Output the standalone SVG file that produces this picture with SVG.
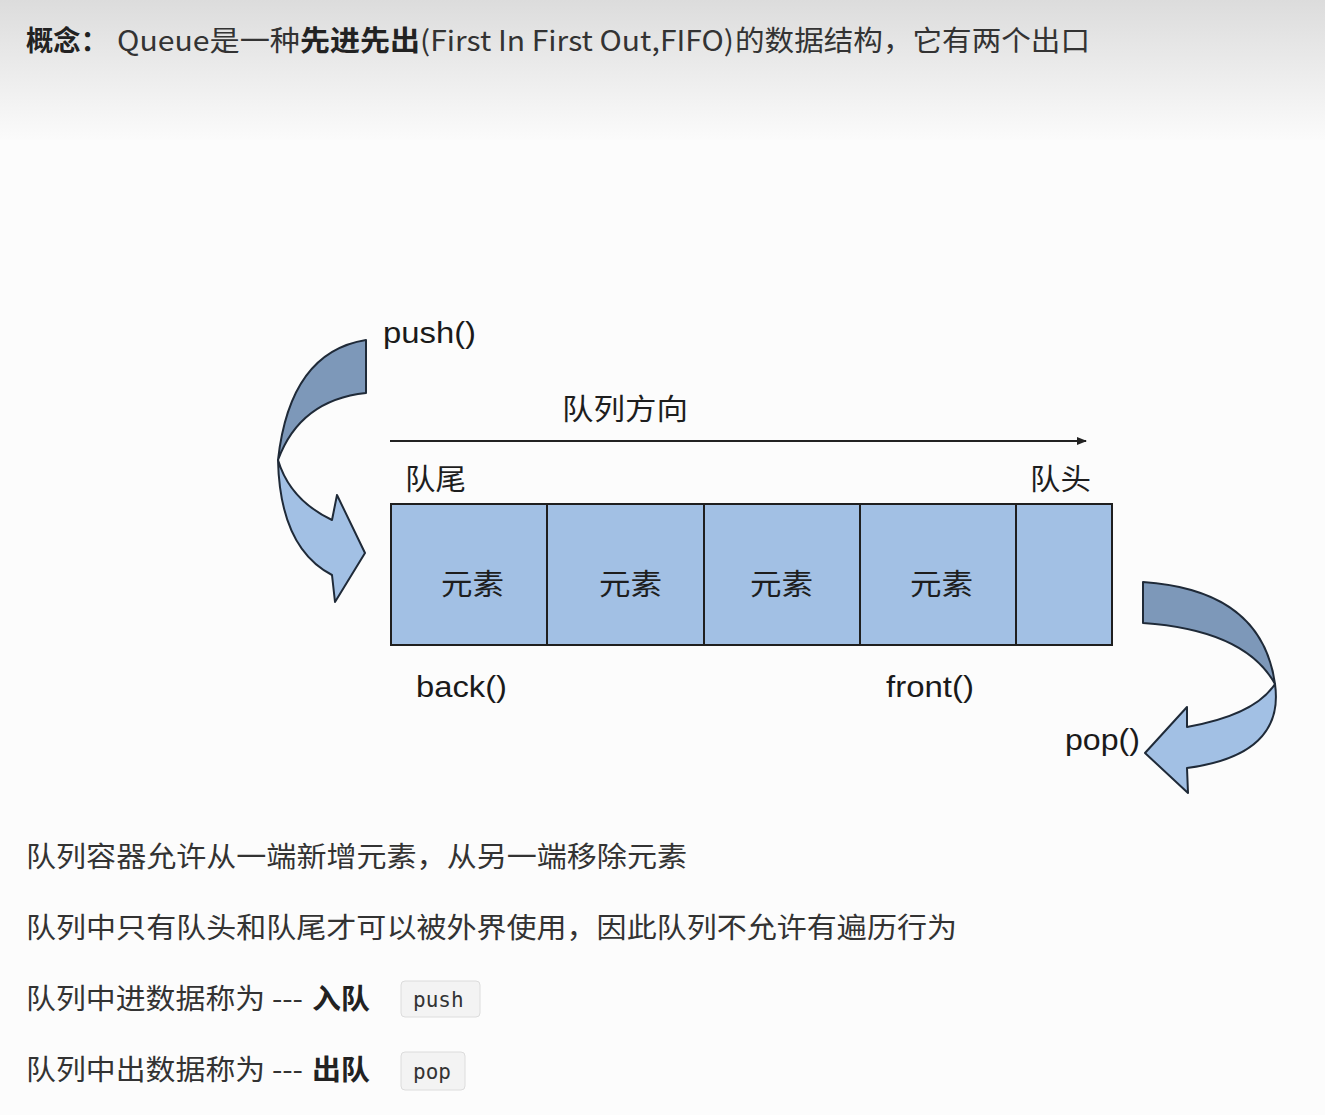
<svg xmlns="http://www.w3.org/2000/svg" width="1325" height="1115" viewBox="0 0 1325 1115">
<defs>
<linearGradient id="topbg" x1="0" y1="0" x2="0" y2="1">
<stop offset="0" stop-color="#dcdcdc"/>
<stop offset="1" stop-color="#fbfbfb"/>
</linearGradient>
<marker id="arr" markerWidth="10" markerHeight="8" refX="9" refY="4" orient="auto" markerUnits="userSpaceOnUse">
<path d="M0,0 L10,4 L0,8 Z" fill="#222"/>
</marker>
<style>
.cjk{font-family:"Noto Sans CJK SC","Liberation Sans",sans-serif;fill:#333;}
.b{font-weight:bold;fill:#222;}
.lbl{font-family:"Liberation Sans","Noto Sans CJK SC",sans-serif;font-size:30px;fill:#1a1a1a;}
.lcjk{font-family:"Noto Sans CJK SC",sans-serif;font-size:29px;fill:#1e1e1e;}
.cell{fill:#a2c0e4;stroke:#1f1f1f;stroke-width:2;}
.dark{fill:#7d98b9;stroke:#1f2a38;stroke-width:2;stroke-linejoin:round;}
.light{fill:#a2c0e4;stroke:#1f2a38;stroke-width:2;stroke-linejoin:round;}
.code{fill:#f3f3f3;stroke:#dcdcdc;stroke-width:1;}
.mono{font-family:"DejaVu Sans Mono","Liberation Mono",monospace;font-size:21px;fill:#333;}
</style>
</defs>
<rect x="0" y="0" width="1325" height="1115" fill="#fcfcfc"/>
<rect x="0" y="0" width="1325" height="140" fill="url(#topbg)"/>

<g id="title" class="cjk" font-size="28">
<text x="26" y="51" class="cjk b" textLength="82" lengthAdjust="spacingAndGlyphs">概念：</text>
<text x="117" y="51" class="cjk" textLength="183" lengthAdjust="spacingAndGlyphs">Queue是一种</text>
<text x="300" y="51" class="cjk b" textLength="120" lengthAdjust="spacingAndGlyphs">先进先出</text>
<text x="420" y="51" class="cjk" textLength="314" lengthAdjust="spacingAndGlyphs">(First In First Out,FIFO)</text>
<text x="735" y="51" class="cjk" textLength="355" lengthAdjust="spacingAndGlyphs">的数据结构，它有两个出口</text>
</g>

<g id="connectors">
<line x1="390" y1="441" x2="1086" y2="441" stroke="#222" stroke-width="2" marker-end="url(#arr)"/>
</g>
<text id="direction-label" x="562" y="420" class="lcjk" textLength="126" lengthAdjust="spacingAndGlyphs">队列方向</text>
<text id="tail-label" x="405" y="490" class="lcjk" textLength="61" lengthAdjust="spacingAndGlyphs">队尾</text>
<text id="head-label" x="1030" y="490" class="lcjk" textLength="61" lengthAdjust="spacingAndGlyphs">队头</text>

<g id="queue">
<g id="cell1"><rect class="cell" x="391" y="504" width="156" height="141"/><text x="441" y="595" class="lcjk" textLength="63" lengthAdjust="spacingAndGlyphs">元素</text></g>
<g id="cell2"><rect class="cell" x="547" y="504" width="157" height="141"/><text x="599" y="595" class="lcjk" textLength="63" lengthAdjust="spacingAndGlyphs">元素</text></g>
<g id="cell3"><rect class="cell" x="704" y="504" width="156" height="141"/><text x="750" y="595" class="lcjk" textLength="63" lengthAdjust="spacingAndGlyphs">元素</text></g>
<g id="cell4"><rect class="cell" x="860" y="504" width="156" height="141"/><text x="910" y="595" class="lcjk" textLength="63" lengthAdjust="spacingAndGlyphs">元素</text></g>
<g id="cell5"><rect class="cell" x="1016" y="504" width="96" height="141"/></g>
</g>

<g id="push-arrow">
<path class="dark" d="M366,340 Q290,352 278,460 Q300,400 366,393 Z"/>
<path class="light" d="M278,460 Q280,548 332,575 L335,602 L365,553 L337,495 L332,520 Q290,500 278,460 Z"/>
</g>
<text id="push-label" x="383" y="343" class="lbl" textLength="93" lengthAdjust="spacingAndGlyphs">push()</text>

<g id="pop-arrow">
<path class="dark" d="M1143,582 Q1262,590 1275,684 Q1245,630 1143,623 Z"/>
<path class="light" d="M1275,684 Q1285,755 1187,768 L1188,793 L1145,753 L1187,707 L1187,727 Q1255,715 1275,684 Z"/>
</g>
<text id="pop-label" x="1065" y="750" class="lbl" textLength="75" lengthAdjust="spacingAndGlyphs">pop()</text>

<text id="back-label" x="416" y="697" class="lbl" textLength="91" lengthAdjust="spacingAndGlyphs">back()</text>
<text id="front-label" x="886" y="697" class="lbl" textLength="88" lengthAdjust="spacingAndGlyphs">front()</text>

<g id="notes" font-size="28">
<text x="26" y="867" class="cjk" textLength="661" lengthAdjust="spacingAndGlyphs">队列容器允许从一端新增元素，从另一端移除元素</text>
<text x="26" y="938" class="cjk" textLength="931" lengthAdjust="spacingAndGlyphs">队列中只有队头和队尾才可以被外界使用，因此队列不允许有遍历行为</text>
<g id="note3">
<text x="26" y="1009" class="cjk" textLength="277" lengthAdjust="spacingAndGlyphs">队列中进数据称为 ---</text>
<text x="312" y="1009" class="cjk b" textLength="58" lengthAdjust="spacingAndGlyphs">入队</text>
<rect class="code" x="401" y="981" width="79" height="36" rx="4"/>
<text x="413" y="1007" class="mono">push</text>
</g>
<g id="note4">
<text x="26" y="1080" class="cjk" textLength="277" lengthAdjust="spacingAndGlyphs">队列中出数据称为 ---</text>
<text x="312" y="1080" class="cjk b" textLength="58" lengthAdjust="spacingAndGlyphs">出队</text>
<rect class="code" x="401" y="1052" width="64" height="38" rx="4"/>
<text x="413" y="1079" class="mono">pop</text>
</g>
</g>
</svg>
